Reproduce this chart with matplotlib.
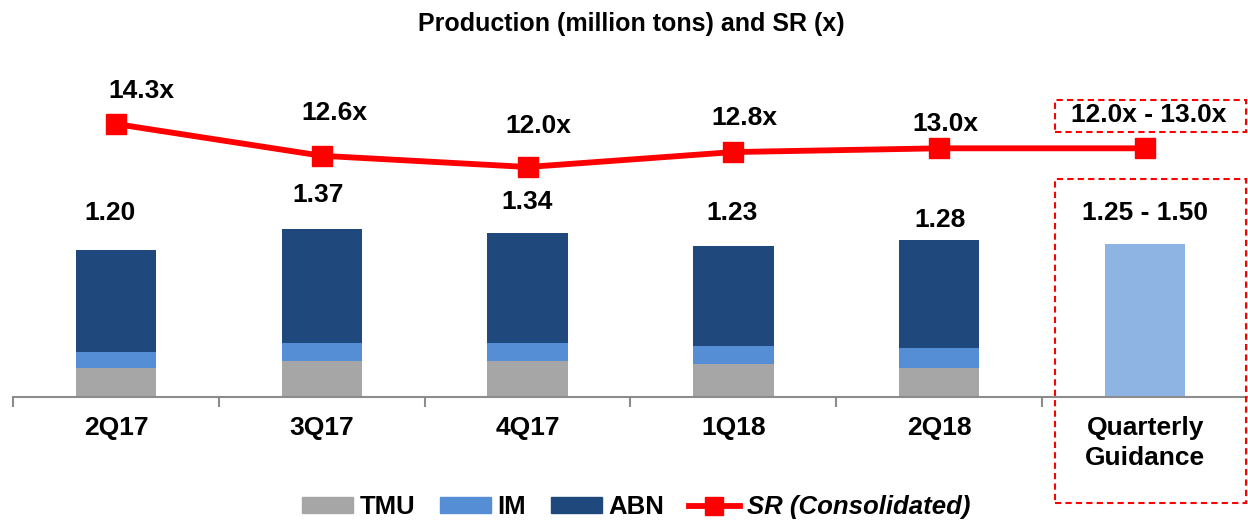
import matplotlib.pyplot as plt
import matplotlib.patches as mpatches
import matplotlib.lines as mlines
import numpy as np

plt.rcParams['font.family'] = ['Liberation Sans', 'DejaVu Sans']
plt.rcParams['font.weight'] = 'bold'

# data
quarters = ['2Q17', '3Q17', '4Q17', '1Q18', '2Q18', 'Quarterly\nGuidance']
tmu = [0.24, 0.29, 0.29, 0.27, 0.24]
im = [0.13, 0.15, 0.15, 0.15, 0.16]
abn = [0.83, 0.93, 0.90, 0.81, 0.88]
totals = [1.20, 1.37, 1.34, 1.23, 1.28]
guide_low = 1.25
guide_label = '1.25 - 1.50'
sr = [14.3, 12.6, 12.0, 12.8, 13.0, 13.0]
sr_labels = ['14.3x', '12.6x', '12.0x', '12.8x', '13.0x']
sr_guide_label = '12.0x - 13.0x'

# label offsets in pixels (dx, dy up), as placed in the reference
bar_lab_off = [(-6, 37), (-4, 34), (-1, 31), (-1, 33), (1, 20), (0, 31)]
sr_lab_off = [(25, 33), (13, 43), (11, 41), (11, 34), (6, 24)]

c_tmu = '#A6A6A6'
c_im = '#558ED5'
c_abn = '#1F497D'
c_guide = '#8EB4E3'
c_red = '#FF0000'

W, H = 1248, 523
px = 0.72  # points per pixel at dpi 100
fig = plt.figure(figsize=(W/100, H/100), dpi=100)
# axes from x=13..1248 px, y=60..397 px
ax = fig.add_axes([13/W, (H-397)/H, (W-13)/W, (397-60)/H])

x = np.arange(len(quarters))
bw = 0.39
n = len(tmu)
ax.bar(x[:n], tmu, bw, color=c_tmu)
ax.bar(x[:n], im, bw, bottom=tmu, color=c_im)
ax.bar(x[:n], abn, bw, bottom=np.add(tmu, im), color=c_abn)
ax.bar(x[n], guide_low, bw, color=c_guide)

bar_texts = [f'{t:.2f}' for t in totals] + [guide_label]
bar_tops = totals + [guide_low]
for xi, t, lab, (dx, dy) in zip(x, bar_tops, bar_texts, bar_lab_off):
    ax.annotate(lab, (xi, t), xytext=(dx*px, dy*px), textcoords='offset points',
                ha='center', va='center', fontsize=19, fontweight='bold')

ax.set_xlim(-0.5, len(quarters) - 0.5)
ax.set_ylim(0, (397-60)/122.5)
for s in ['top', 'right', 'left']:
    ax.spines[s].set_visible(False)
ax.spines['bottom'].set_color('#8C8C8C')
ax.spines['bottom'].set_linewidth(1.5)
ax.set_yticks([])
ax.set_xticks(x)
ax.set_xticklabels(quarters, fontsize=19, fontweight='bold', linespacing=1.3)
ax.tick_params(axis='x', which='major', length=0, pad=14)
ax.set_xticks(np.arange(-0.5, len(quarters) - 0.5), minor=True)
ax.tick_params(axis='x', which='minor', length=7, width=1.5, color='#8C8C8C')

# SR on secondary axis
ax2 = ax.twinx()
ax2.set_ylim(14.3 - (397-124)/18.7, 14.3 + (124-60)/18.7)
ax2.axis('off')
ax2.plot(x, sr, color=c_red, lw=4.2, marker='s', ms=15, zorder=5)
for xi, v, lab, (dx, dy) in zip(x[:n], sr[:n], sr_labels, sr_lab_off):
    ax2.annotate(lab, (xi, v), xytext=(dx*px, dy*px), textcoords='offset points',
                 ha='center', va='center', fontsize=19, fontweight='bold')
ax2.annotate(sr_guide_label, (x[n], sr[n]), xytext=(4*px, 33*px), textcoords='offset points',
             ha='center', va='center', fontsize=19, fontweight='bold')

# dashed highlight boxes
fig.patches.append(mpatches.Rectangle((1055/W, (H-132)/H), 191/W, 32/H, transform=fig.transFigure,
                                      fill=False, ec=c_red, lw=1.5, ls=(0, (3, 2))))
fig.patches.append(mpatches.Rectangle((1055/W, (H-503)/H), 191/W, 324/H, transform=fig.transFigure,
                                      fill=False, ec=c_red, lw=1.5, ls=(0, (3, 2))))

fig.text(631/W, 1 - 24/H, 'Production (million tons) and SR (x)', ha='center', va='center',
         fontsize=18, fontweight='bold')

handles = [mpatches.Patch(color=c_tmu, label='TMU'),
           mpatches.Patch(color=c_im, label='IM'),
           mpatches.Patch(color=c_abn, label='ABN'),
           mlines.Line2D([], [], color=c_red, lw=4.2, marker='s', ms=13, label='SR (Consolidated)')]
leg = fig.legend(handles=handles, loc='center', bbox_to_anchor=(636/W, 1 - 507/H), ncol=4,
                 frameon=False, fontsize=18.5, handlelength=2.0, handleheight=0.55,
                 columnspacing=0.95, handletextpad=0.25)
for t in leg.get_texts():
    t.set_fontweight('bold')
leg.get_texts()[-1].set_fontstyle('italic')

fig.savefig('out.png', dpi=100)
